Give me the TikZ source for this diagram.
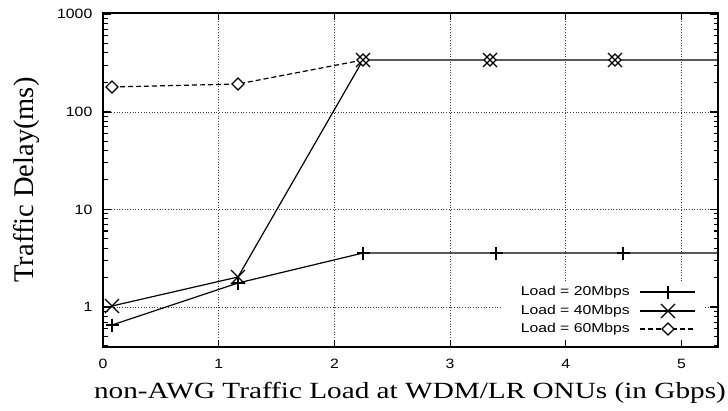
\documentclass[tikz,border=0pt]{standalone}
\usepackage{fontspec}
\setmainfont{Liberation Serif}
\setsansfont{Liberation Sans}
\newcommand\ticklab[1]{\scalebox{1.17}[1]{\fontsize{13.5}{15}\sffamily #1}}
\newcommand\leglabtext[1]{\scalebox{1.22}[1]{\fontsize{12.9}{15}\sffamily #1}}
\tikzset{
  gridline/.style={dotted, line width=0.7pt, black!75},
  axisline/.style={line width=1.6pt},
  tickline/.style={line width=1.1pt},
  dataline/.style={line width=1.2pt},
  ylab/.style={anchor=east, inner sep=0pt},
  xlab/.style={anchor=center, inner sep=0pt},
  leglab/.style={anchor=east, inner sep=0pt},
  pplus/.pic={\draw[line width=1.2pt] (-6.5,0)--(6.5,0) (0,-6.5)--(0,6.5);},
  pcross/.pic={\draw[line width=1.2pt] (-7,-7)--(7,7) (-7,7)--(7,-7);},
  pdiam/.pic={\draw[line width=1.2pt, fill=white] (-6,0)--(0,-6)--(6,0)--(0,6)--cycle;}
}
\begin{document}
\begin{tikzpicture}[x=1pt,y=-1pt]
\useasboundingbox (0,0) rectangle (728,410);
% grid
\foreach \v in {1,...,5} {
  \pgfmathsetmacro\xx{103+115.7*\v}
  \draw[gridline] (\xx,13) -- (\xx,347);
}
\foreach \yy in {112,209.5,307} {
  \draw[gridline] (103,\yy) -- (718,\yy);
}
% legend background
\fill[white] (502,283) rectangle (703,339);
% minor y ticks
\foreach \b in {0.1,1,10,100} {
  \foreach \m in {2,...,9} {
    \pgfmathsetmacro\yy{307-42.417*ln(\b*\m)}
    \pgfmathtruncatemacro\ok{\yy<346.5 ? 1 : 0}
    \ifnum\ok=1
      \draw[tickline] (103,\yy) -- ++(4.5,0);
      \draw[tickline] (718,\yy) -- ++(-4.5,0);
    \fi
  }
}
% major y ticks and labels
\foreach \yy/\t in {14/1000,112/100,209.5/10,307/1} {
  \draw[tickline] (103,\yy) -- ++(8,0);
  \draw[tickline] (718,\yy) -- ++(-8,0);
  \node[ylab] (yl\t) at (92.5,\yy) {\ticklab{\t}};
}
% x ticks and labels
\foreach \v in {0,...,5} {
  \pgfmathsetmacro\xx{103+115.7*\v}
  \draw[tickline] (\xx,347) -- ++(0,-7);
  \draw[tickline] (\xx,13) -- ++(0,7);
  \node[xlab] (xl\v) at (\xx,364) {\ticklab{\v}};
}
% axes frame
\draw[axisline] (103,13) rectangle (718,347);
% axis titles
\node[anchor=base, inner sep=0pt] (xtitle) at (410,398)
  {\scalebox{1.26}[1]{\fontsize{23.2}{26}\selectfont non-AWG Traffic Load at WDM/LR ONUs (in Gbps)}};
\node[rotate=90, anchor=base, inner sep=0pt] (ytitle) at (33,180)
  {\fontsize{28.5}{32}\selectfont Traffic Delay(ms)};
% data coordinates
\coordinate (a1) at (112,325);
\coordinate (a2) at (238,283);
\coordinate (a3) at (363,253);
\coordinate (a4) at (496,253);
\coordinate (a5) at (623,253);
\coordinate (a6) at (718,253);
\coordinate (b1) at (112,306);
\coordinate (b2) at (238,277);
\coordinate (b3) at (363,60);
\coordinate (b4) at (490,60);
\coordinate (b5) at (615,60);
\coordinate (b6) at (718,60);
\coordinate (c1) at (112,87);
\coordinate (c2) at (238,84);
\coordinate (c3) at (363,60);
\coordinate (c4) at (490,60);
\coordinate (c5) at (615,60);
\coordinate (c6) at (718,60);
% series
\draw[dataline] (a1) -- (a2) -- (a3) -- (a4) -- (a5) -- (a6);
\draw[dataline] (b1) -- (b2) -- (b3) -- (b4) -- (b5) -- (b6);
\draw[dataline, dashed, dash pattern=on 5pt off 3pt] (c1) -- (c2) -- (c3);
\foreach \p in {c1,c2,c3,c4,c5} { \pic at (\p) {pdiam}; }
\foreach \p in {a1,a2,a3,a4,a5} { \pic at (\p) {pplus}; }
\foreach \p in {b1,b2,b3,b4,b5} { \pic at (\p) {pcross}; }
% legend
\node[leglab] (lg1) at (630,292) {\leglabtext{Load = 20Mbps}};
\node[leglab] (lg2) at (630,311) {\leglabtext{Load = 40Mbps}};
\node[leglab] (lg3) at (630,329) {\leglabtext{Load = 60Mbps}};
\coordinate (la1) at (640,292); \coordinate (la2) at (695,292); \coordinate (lam) at (668,292);
\coordinate (lb1) at (640,311); \coordinate (lb2) at (695,311); \coordinate (lbm) at (668,311);
\coordinate (lc1) at (640,329); \coordinate (lc2) at (695,329); \coordinate (lcm) at (668,329);
\draw[dataline] (la1) -- (la2);
\draw[dataline] (lb1) -- (lb2);
\draw[dataline, dashed, dash pattern=on 5pt off 3pt] (lc1) -- (lc2);
\pic at (lam) {pplus};
\pic at (lbm) {pcross};
\pic at (lcm) {pdiam};
\end{tikzpicture}
\end{document}
